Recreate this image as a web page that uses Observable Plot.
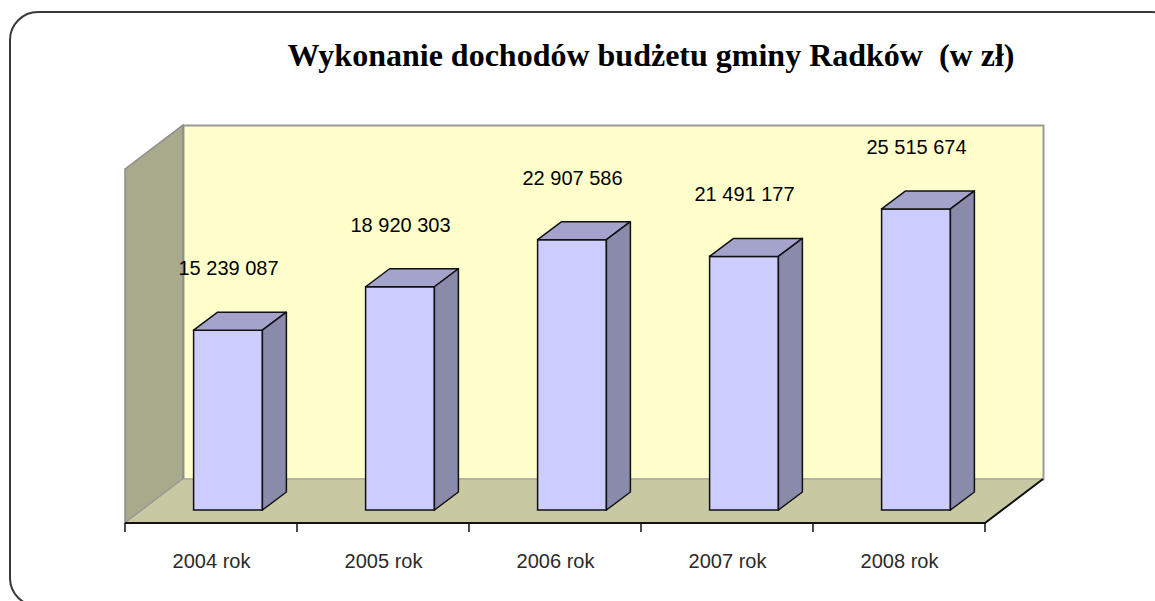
<!DOCTYPE html>
<html>
<head>
<meta charset="utf-8">
<script src="https://cdn.jsdelivr.net/npm/d3@7"></script>
<script src="https://cdn.jsdelivr.net/npm/@observablehq/plot@0.6"></script>
<style>
  html, body { margin: 0; padding: 0; background: #fff; overflow: hidden; }
  #wrap { position: relative; width: 1155px; height: 601px; overflow: hidden; }
  #border { position: absolute; left: 0; top: 0; }
  #title { position: absolute; left: 151px; width: 1000px; top: 39px; text-align: center;
           font-family: "Liberation Serif", "Times New Roman", serif; font-weight: bold;
           font-size: 32px; line-height: 32px; white-space: pre; color: #000; }
  #chart { position: absolute; left: 0; top: 0; }
</style>
</head>
<body>
<div id="wrap">
  <svg id="border" width="1155" height="601">
    <rect x="10" y="12" width="1170" height="594" rx="28" ry="28" fill="none" stroke="#3a3a3a" stroke-width="2"></rect>
  </svg>
  <div id="chart"></div>
  <div id="title">Wykonanie dochodów budżetu gminy Radków  (w zł)</div>
</div>
<script>
// ---- data ----
const years = ["2004 rok", "2005 rok", "2006 rok", "2007 rok", "2008 rok"];
const values = [15239087, 18920303, 22907586, 21491177, 25515674];
const yMax = 30000000;

const data = years.map((year, i) => ({year, value: values[i]}));
const fmt = v => d3.format(",")(v).replace(/,/g, " ");

// 3-D depth offsets (pixels)
const WALL = [58, -44];      // depth of the floor / side wall
const BAR_FRONT = [17, -13]; // front face of bars
const BAR_BACK = [41, -31];  // back face of bars

function walls(index, scales, vals, dim) {
  const {width, height, marginLeft, marginRight, marginTop, marginBottom} = dim;
  const x0 = marginLeft, x1 = width - marginRight;
  const yb = height - marginBottom, yt = marginTop;
  const [dx, dy] = WALL;
  const g = d3.create("svg:g");
  const pts = a => a.map(p => p.join(",")).join(" ");
  // left side wall
  g.append("polygon")
    .attr("points", pts([[x0, yt], [x0 + dx, yt + dy], [x0 + dx, yb + dy], [x0, yb]]))
    .attr("fill", "#A9A98B").attr("stroke", "#8c8c8c").attr("stroke-width", 1.5);
  // floor
  g.append("polygon")
    .attr("points", pts([[x0, yb], [x1, yb], [x1 + dx, yb + dy], [x0 + dx, yb + dy]]))
    .attr("fill", "#C8C8A2").attr("stroke", "#9a9a9a").attr("stroke-width", 1);
  // floor front and right edges
  g.append("polyline")
    .attr("points", pts([[x0, yb], [x1, yb], [x1 + dx, yb + dy]]))
    .attr("fill", "none").attr("stroke", "#111").attr("stroke-width", 2);
  // category boundary ticks
  const step = scales.x.step();
  const start = scales.x(years[0]) - scales.x.paddingOuter() * step;
  for (let i = 0; i <= years.length; i++) {
    const xt = start + i * step;
    g.append("line").attr("x1", xt).attr("x2", xt).attr("y1", yb).attr("y2", yb + 9)
      .attr("stroke", "#111").attr("stroke-width", 1.5);
  }
  return g.node();
}

function barSides(index, scales, vals, dim) {
  const {x, y} = scales;
  const bw = x.bandwidth();
  const yb = y(0);
  const g = d3.create("svg:g").attr("stroke", "#111").attr("stroke-width", 1.5)
    .attr("stroke-linejoin", "round");
  const pts = a => a.map(p => p.join(",")).join(" ");
  const [fx, fy] = BAR_FRONT, [bx, by] = BAR_BACK;
  years.forEach((yr, i) => {
    const xl = x(yr), xr = xl + bw, yt = y(values[i]);
    // top face
    g.append("polygon").attr("fill", "#A3A3CB")
      .attr("points", pts([[xl + fx, yt + fy], [xr + fx, yt + fy], [xr + bx, yt + by], [xl + bx, yt + by]]));
    // side face
    g.append("polygon").attr("fill", "#8A8AAB")
      .attr("points", pts([[xr + fx, yt + fy], [xr + bx, yt + by], [xr + bx, yb + by], [xr + fx, yb + fy]]));
  });
  return g.node();
}

const chart = Plot.plot({
  width: 1155,
  height: 601,
  marginLeft: 125,
  marginRight: 170,
  marginTop: 169,
  marginBottom: 78,
  style: {background: "transparent", fontFamily: "'Liberation Sans', Arial, sans-serif", fontSize: "20px", color: "#2a2a2a", overflow: "visible"},
  x: {domain: years, paddingInner: 0.6, paddingOuter: 0.3, round: false, tickSize: 0, tickPadding: 30, label: null},
  y: {domain: [0, yMax], axis: null},
  marks: [
    Plot.frame({fill: "#FFFFCC", stroke: "#999999", strokeWidth: 2, dx: WALL[0], dy: WALL[1]}),
    walls,
    Plot.barY(data, {x: "year", y: "value", fill: "#CCCCFF", stroke: "#111", strokeWidth: 1.5, dx: BAR_FRONT[0], dy: BAR_FRONT[1]}),
    barSides,
    Plot.text(data, {x: "year", y: "value", text: d => fmt(d.value), fontSize: 20, fill: "#000",
      textAnchor: "middle", lineAnchor: "middle", dx: BAR_FRONT[0], dy: BAR_FRONT[1] - 62})
  ]
});
document.getElementById("chart").appendChild(chart);
</script>
</body>
</html>
